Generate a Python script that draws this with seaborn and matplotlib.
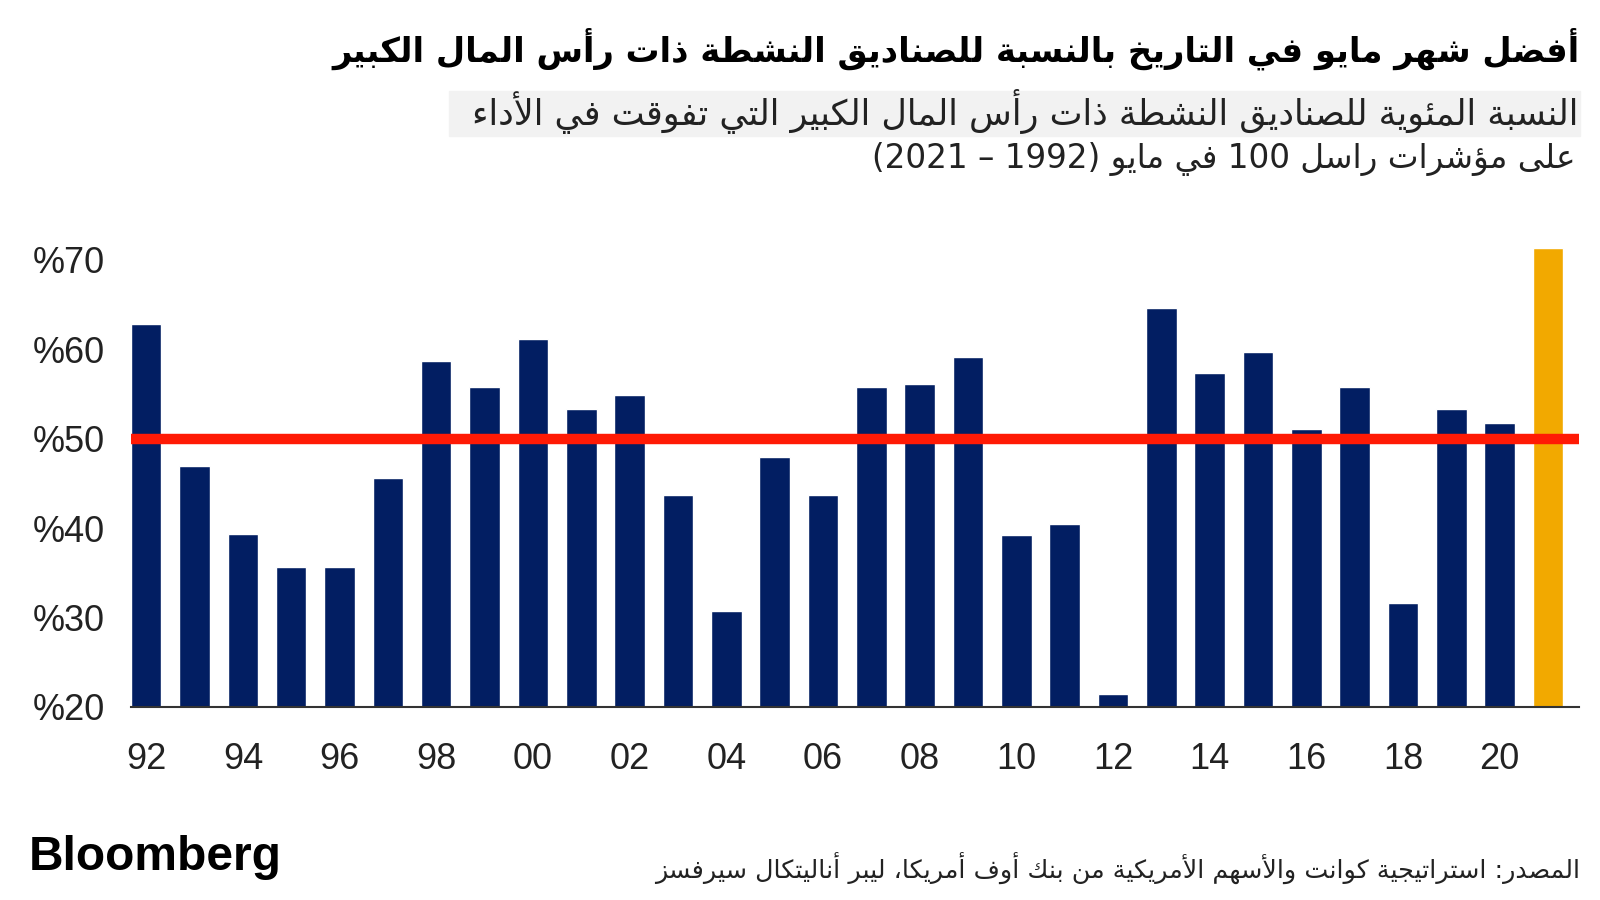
import re
import numpy as np
import pandas as pd
import matplotlib
matplotlib.use('Agg')
import matplotlib.pyplot as plt
from matplotlib.patches import Rectangle
import seaborn as sns

# data
years = ['1992', '1993', '1994', '1995', '1996', '1997', '1998', '1999', '2000', '2001',
         '2002', '2003', '2004', '2005', '2006', '2007', '2008', '2009', '2010', '2011',
         '2012', '2013', '2014', '2015', '2016', '2017', '2018', '2019', '2020', '2021']
share_beating = [62.8, 47.0, 39.4, 35.6, 35.6, 45.6, 58.7, 55.8, 61.2, 53.3,
                 54.9, 43.7, 30.7, 48.0, 43.7, 55.8, 56.1, 59.1, 39.2, 40.5,
                 21.5, 64.6, 57.4, 59.7, 51.1, 55.8, 31.6, 53.3, 51.8, 71.3]
x_labels = ['92', '', '94', '', '96', '', '98', '', '00', '',
            '02', '', '04', '', '06', '', '08', '', '10', '',
            '12', '', '14', '', '16', '', '18', '', '20', '']
y_ticks = [20, 30, 40, 50, 60, 70]
threshold = 50

title = 'أفضل شهر مايو في التاريخ بالنسبة للصناديق النشطة ذات رأس المال الكبير'
subtitle_1 = 'النسبة المئوية للصناديق النشطة ذات رأس المال الكبير التي تفوقت في الأداء'
subtitle_2 = 'على مؤشرات راسل 100 في مايو (1992 – 2021)'
source = 'المصدر: استراتيجية كوانت والأسهم الأمريكية من بنك أوف أمريكا، ليبر أناليتكال سيرفسز'

NAVY = '#021e62'
GOLD = '#f2a900'
RED = '#ff1a05'

# --- minimal arabic shaping + right-to-left ordering (matplotlib does neither) ---
_letters = 'ءآأؤإئابةتثجحخدذرزسشصضطظعغفقكلمنهوىي'
_nforms = [1, 2, 2, 2, 2, 4, 2, 4, 2, 4, 4, 4, 4, 4, 2, 2, 2, 2, 4, 4,
           4, 4, 4, 4, 4, 4, 4, 4, 4, 4, 4, 4, 4, 2, 2, 4]
FORMS = {}
code = 0xFE80
for ch, n in zip(_letters, _nforms):
    FORMS[ch] = [chr(code + k) for k in range(n)]
    code += n
LAM_ALEF = {'آ': ('\uFEF5', '\uFEF6'), 'أ': ('\uFEF7', '\uFEF8'),
            'إ': ('\uFEF9', '\uFEFA'), 'ا': ('\uFEFB', '\uFEFC')}


def _dual(c):
    return c in FORMS and len(FORMS[c]) == 4


def _joinable(c):
    return c in FORMS and len(FORMS[c]) >= 2


def shape(s):
    out = []
    i = 0
    while i < len(s):
        c = s[i]
        prev_joins = i > 0 and _dual(s[i - 1])
        if c == 'ل' and i + 1 < len(s) and s[i + 1] in LAM_ALEF:
            iso, fin = LAM_ALEF[s[i + 1]]
            out.append(fin if prev_joins else iso)
            i += 2
            continue
        if c not in FORMS:
            out.append(c)
            i += 1
            continue
        f = FORMS[c]
        next_joins = _dual(c) and i + 1 < len(s) and _joinable(s[i + 1])
        if len(f) == 1:
            out.append(f[0])
        elif len(f) == 2:
            out.append(f[1] if prev_joins else f[0])
        else:
            if prev_joins and next_joins:
                out.append(f[3])
            elif prev_joins:
                out.append(f[1])
            elif next_joins:
                out.append(f[2])
            else:
                out.append(f[0])
        i += 1
    return ''.join(out)


def rtl(s):
    t = shape(s)[::-1]
    t = re.sub(r'[0-9]+', lambda m: m.group(0)[::-1], t)
    return t.translate(str.maketrans('()', ')('))


sns.set_style('white')
plt.rcParams['font.family'] = ['Liberation Sans', 'DejaVu Sans']

df = pd.DataFrame({'year': years, 'share': share_beating})
colors = [NAVY] * (len(years) - 1) + [GOLD]

fig = plt.figure(figsize=(16, 9), dpi=100)
ax = fig.add_axes([131 / 1600, 1 - 707 / 900, (1579 - 131) / 1600, (707 - 242) / 900])

sns.barplot(data=df, x='year', y='share', hue='year', palette=colors,
            legend=False, width=0.63, saturation=1, ax=ax)
ax.axhline(threshold, color=RED, lw=7.5, zorder=5)

ax.set_ylim(20, 72)
ax.set_xlim(-0.315, len(years) - 1 + 0.64)
ax.set_yticks(y_ticks)
ax.set_yticklabels(['%' + str(v) for v in y_ticks])
ax.set_xticks(range(len(years)))
ax.set_xticklabels(x_labels)
ax.tick_params(axis='both', length=0, labelsize=26, colors='#222222')
ax.tick_params(axis='y', pad=19)
ax.tick_params(axis='x', pad=25)
ax.set_xlabel('')
ax.set_ylabel('')
for side in ['top', 'right', 'left']:
    ax.spines[side].set_visible(False)
ax.spines['bottom'].set_color('#333333')
ax.spines['bottom'].set_linewidth(1.5)

ar = ['DejaVu Sans']
fig.text(1580 / 1600, 1 - 49 / 900, rtl(title), ha='right', va='center',
         fontsize=24.3, fontweight='bold', family=ar, color='#000000')
fig.patches.append(Rectangle((449 / 1600, 1 - 136 / 900), (1580 - 449) / 1600, 45 / 900,
                             transform=fig.transFigure, color='#f2f2f2', zorder=0))
fig.text(1578 / 1600, 1 - 112 / 900, rtl(subtitle_1), ha='right', va='center',
         fontsize=25.2, family=ar, color='#222222')
fig.text(1576 / 1600, 1 - 159 / 900, rtl(subtitle_2), ha='right', va='center',
         fontsize=23.5, family=ar, color='#222222')
fig.text(1580 / 1600, 1 - 868 / 900, rtl(source), ha='right', va='center',
         fontsize=18.3, family=ar, color='#222222')
fig.text(29 / 1600, 1 - 858 / 900, 'Bloomberg', ha='left', va='center',
         fontsize=34.5, fontweight='bold', family=['Liberation Sans'], color='#000000')

fig.savefig('out.png', dpi=100)
